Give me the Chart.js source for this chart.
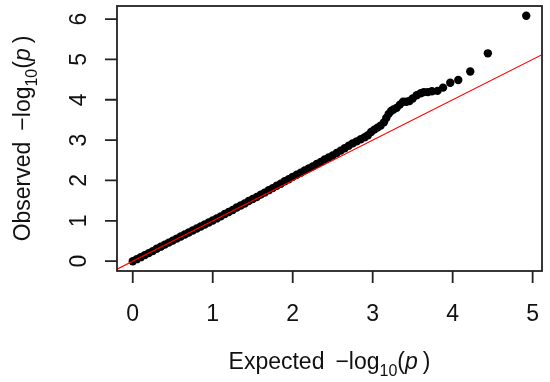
<!DOCTYPE html>
<html>
<head>
<meta charset="utf-8">
<script src="https://cdn.jsdelivr.net/npm/chart.js@4.4.1/dist/chart.umd.min.js"></script>
<style>
  body { margin: 0; background: #fff; }
</style>
</head>
<body>
<canvas id="qq" width="550" height="382"></canvas>
<script>
// QQ plot, expected vs observed -log10(p)
const expected = [
  0.00, 0.05, 0.10, 0.15, 0.20, 0.25, 0.30, 0.35, 0.40, 0.45,
  0.50, 0.55, 0.60, 0.65, 0.70, 0.75, 0.80, 0.85, 0.90, 0.95,
  1.00, 1.05, 1.10, 1.15, 1.20, 1.25, 1.30, 1.35, 1.40, 1.45,
  1.50, 1.55, 1.60, 1.65, 1.70, 1.75, 1.80, 1.85, 1.90, 1.95,
  2.00, 2.05, 2.10, 2.15, 2.20, 2.25, 2.30, 2.35, 2.40, 2.45,
  2.50, 2.55, 2.60, 2.65, 2.70, 2.75, 2.80, 2.85, 2.90, 2.94,
  2.98, 3.02, 3.06, 3.10, 3.14, 3.17, 3.20, 3.23, 3.26, 3.30,
  3.34, 3.38, 3.42, 3.46, 3.50, 3.55, 3.60, 3.64, 3.69, 3.74,
  3.81, 3.88, 3.97, 4.07, 4.22, 4.44, 4.92
];
const observed = [
  0.00, 0.05, 0.10, 0.15, 0.20, 0.25, 0.31, 0.36, 0.41, 0.46,
  0.51, 0.56, 0.61, 0.66, 0.71, 0.76, 0.81, 0.86, 0.91, 0.96,
  1.01, 1.06, 1.11, 1.17, 1.22, 1.27, 1.33, 1.38, 1.43, 1.49,
  1.54, 1.59, 1.65, 1.70, 1.76, 1.81, 1.87, 1.92, 1.98, 2.03,
  2.09, 2.14, 2.19, 2.25, 2.30, 2.35, 2.41, 2.46, 2.52, 2.57,
  2.62, 2.68, 2.74, 2.80, 2.86, 2.92, 2.97, 3.02, 3.07, 3.12,
  3.20, 3.26, 3.31, 3.36, 3.44, 3.55, 3.65, 3.72, 3.76, 3.80,
  3.88, 3.95, 3.95, 3.97, 4.03, 4.11, 4.16, 4.19, 4.19, 4.21,
  4.22, 4.30, 4.42, 4.49, 4.70, 5.15, 6.08
];
const xTicks = [0, 1, 2, 3, 4, 5];
const yTicks = [0, 1, 2, 3, 4, 5, 6];
const xLimits = [-0.197, 5.117];
const yLimits = [-0.243, 6.323];

const points = expected.map((e, i) => ({ x: e, y: observed[i] }));
const diagonal = xLimits.map(v => ({ x: v, y: v })); // abline y = x

const FONT = "'Liberation Sans', Arial, sans-serif";

// "<prefix>  −log10(p)" centred on x, baseline at y
function axisTitle(ctx, prefix, x, y) {
  const parts = [
    { t: prefix, f: '23px ' + FONT, dy: 0 },
    { t: '\u2212log', f: '23px ' + FONT, dy: 0, gap: 11 },
    { t: '10', f: '16px ' + FONT, dy: 7 },
    { t: '(', f: '23px ' + FONT, dy: 0 },
    { t: 'p', f: 'italic 23px ' + FONT, dy: 0 },
    { t: ')', f: '23px ' + FONT, dy: 0, gap: 5 }
  ];
  let total = 0;
  parts.forEach(p => {
    ctx.font = p.f;
    p.w = ctx.measureText(p.t).width;
    total += p.w + (p.gap || 0);
  });
  let cx = x - total / 2;
  ctx.textAlign = 'left';
  ctx.textBaseline = 'alphabetic';
  parts.forEach(p => {
    cx += p.gap || 0;
    ctx.font = p.f;
    ctx.fillText(p.t, cx, y + p.dy);
    cx += p.w;
  });
}

const rAxes = {
  id: 'rAxes',
  afterDraw(chart) {
    const ctx = chart.ctx;
    const a = chart.chartArea;
    const xs = chart.scales.x, ys = chart.scales.y;
    ctx.save();
    ctx.strokeStyle = '#222';
    ctx.fillStyle = '#111';
    ctx.lineWidth = 1.8;
    ctx.strokeRect(a.left, a.top, a.right - a.left, a.bottom - a.top);

    ctx.beginPath();
    xTicks.forEach(v => {
      const px = xs.getPixelForValue(v);
      ctx.moveTo(px, a.bottom);
      ctx.lineTo(px, a.bottom + 12);
    });
    yTicks.forEach(v => {
      const py = ys.getPixelForValue(v);
      ctx.moveTo(a.left, py);
      ctx.lineTo(a.left - 12, py);
    });
    ctx.stroke();

    ctx.font = '23px ' + FONT;
    ctx.textAlign = 'center';
    ctx.textBaseline = 'alphabetic';
    xTicks.forEach(v => {
      ctx.fillText(String(v), xs.getPixelForValue(v), a.bottom + 50);
    });
    yTicks.forEach(v => {
      ctx.save();
      ctx.translate(a.left - 31, ys.getPixelForValue(v));
      ctx.rotate(-Math.PI / 2);
      ctx.fillText(String(v), 0, 0);
      ctx.restore();
    });

    axisTitle(ctx, 'Expected', (a.left + a.right) / 2, a.bottom + 98);
    ctx.save();
    ctx.translate(30, (a.top + a.bottom) / 2);
    ctx.rotate(-Math.PI / 2);
    axisTitle(ctx, 'Observed', 0, 0);
    ctx.restore();
    ctx.restore();
  }
};

new Chart(document.getElementById('qq'), {
  type: 'scatter',
  data: {
    datasets: [
      {
        type: 'line',
        data: diagonal,
        borderColor: '#ff0000',
        borderWidth: 1.2,
        pointRadius: 0,
        fill: false,
        order: 0
      },
      {
        data: points,
        backgroundColor: '#000',
        borderWidth: 0,
        pointRadius: 4.2,
        order: 1
      }
    ]
  },
  options: {
    responsive: false,
    animation: false,
    layout: { padding: { left: 117, right: 8, top: 6, bottom: 111 } },
    plugins: { legend: { display: false }, tooltip: { enabled: false } },
    scales: {
      x: { type: 'linear', min: xLimits[0], max: xLimits[1], display: false },
      y: { type: 'linear', min: yLimits[0], max: yLimits[1], display: false }
    }
  },
  plugins: [rAxes]
});
</script>
</body>
</html>
